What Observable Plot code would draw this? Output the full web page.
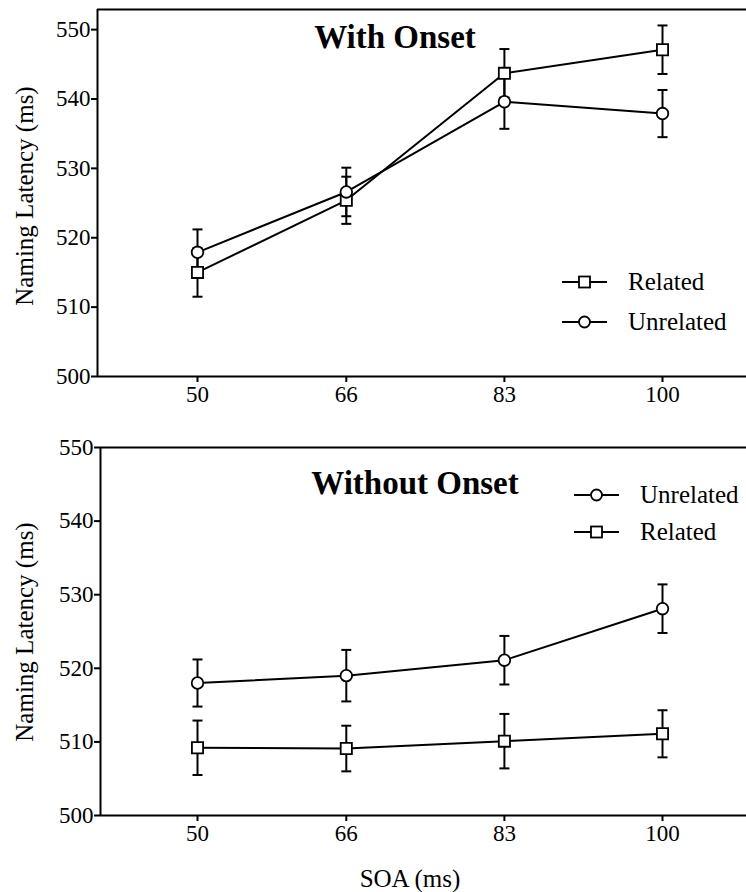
<!DOCTYPE html>
<html>
<head>
<meta charset="utf-8">
<script src="https://cdn.jsdelivr.net/npm/d3@7"></script>
<script src="https://cdn.jsdelivr.net/npm/@observablehq/plot@0.6"></script>
<style>
  html, body { margin: 0; padding: 0; background: #fff; }
  #page { position: relative; width: 746px; height: 892px; overflow: hidden; font-family: "Liberation Serif", "DejaVu Serif", "Times New Roman", Times, serif; color: #000; }
  .panel { position: absolute; left: 0; }
  .title { position: absolute; font-weight: bold; font-size: 33px; white-space: nowrap; transform: translate(-50%, -50%); }
  .ylab { position: absolute; font-size: 25px; white-space: nowrap; transform: translate(-50%, -50%) rotate(-90deg); }
  .xlab { position: absolute; font-size: 25px; white-space: nowrap; transform: translate(-50%, -50%); }
  .legend { position: absolute; font-size: 25px; }
  .legend .row { position: absolute; display: flex; align-items: center; white-space: nowrap; transform: translateY(-50%); }
  .legend .row span { margin-left: 21px; }
  svg text { font-family: "Liberation Serif", "DejaVu Serif", "Times New Roman", Times, serif !important; }
  g[aria-label^="x-axis"] line, g[aria-label^="y-axis"] line,
  g[aria-label^="x-axis"] path, g[aria-label^="y-axis"] path { stroke-width: 2; }
</style>
</head>
<body>
<div id="page"></div>
<script>
// ---- data ----
const soa = [50, 66, 83, 100];
const xTickLabels = ["50", "66", "83", "100"];
const yTicks = [500, 510, 520, 530, 540, 550];

// With Onset panel
const withRelated = [515.0, 525.4, 543.7, 547.1];
const withRelatedErr = [3.5, 3.4, 3.5, 3.5];
const withUnrelated = [517.9, 526.6, 539.6, 537.9];
const withUnrelatedErr = [3.3, 3.5, 3.9, 3.4];

// Without Onset panel
const withoutUnrelated = [518.0, 519.0, 521.1, 528.1];
const withoutUnrelatedErr = [3.2, 3.5, 3.3, 3.3];
const withoutRelated = [509.2, 509.1, 510.1, 511.1];
const withoutRelatedErr = [3.7, 3.1, 3.7, 3.2];

// ---- helpers ----
const capSymbol = {
  draw(context, size) {
    const r = Math.sqrt(size / Math.PI);
    context.moveTo(-r, 0);
    context.lineTo(r, 0);
  }
};

function rows(values, errs, cond) {
  return soa.map((s, i) => ({soa: s, value: values[i], lo: values[i] - errs[i], hi: values[i] + errs[i], cond}));
}

function seriesMarks(data) {
  return [
    Plot.line(data, {x: "soa", y: "value", stroke: "#000", strokeWidth: 2}),
    Plot.ruleX(data, {x: "soa", y1: "lo", y2: "hi", stroke: "#000", strokeWidth: 2}),
    Plot.dot(data, {x: "soa", y: "hi", symbol: capSymbol, r: 5, stroke: "#000", strokeWidth: 2, fill: "none"}),
    Plot.dot(data, {x: "soa", y: "lo", symbol: capSymbol, r: 5, stroke: "#000", strokeWidth: 2, fill: "none"})
  ];
}

function dotMarks(data, symbol) {
  const r = symbol === "square" ? 6.3 : 5.8;
  return Plot.dot(data, {x: "soa", y: "value", symbol, r, stroke: "#000", strokeWidth: 1.8, fill: "#fff"});
}

const serif = "'Liberation Serif', 'DejaVu Serif', 'Times New Roman', Times, serif";
const pxPerUnit = 9.3;
function makePanel({series, marginLeft, marginTop, height, marginBottom, yMax}) {
  const xMin = 50 - (197 - marginLeft) / pxPerUnit;
  const xMax = 100 + (746 - 662) / pxPerUnit;
  return Plot.plot({
    width: 746,
    height,
    marginLeft,
    marginRight: 0,
    marginTop,
    marginBottom,
    style: {fontFamily: serif, fontSize: "23px", color: "#000", background: "transparent", overflow: "visible"},
    x: {domain: [xMin, xMax], ticks: soa, tickFormat: d => xTickLabels[soa.indexOf(d)], tickSize: 6, tickPadding: 3, label: null},
    y: {domain: [500, yMax], ticks: yTicks, tickSize: 6, tickPadding: 1, label: null},
    marks: [
      Plot.ruleX([xMin], {stroke: "#000", strokeWidth: 2}),
      Plot.ruleY([500], {stroke: "#000", strokeWidth: 2}),
      Plot.ruleY([yMax], {stroke: "#000", strokeWidth: 2}),
      ...series.flatMap(s => seriesMarks(s.data)),
      ...series.map(s => dotMarks(s.data, s.symbol))
    ]
  });
}

const page = document.getElementById("page");

function addPanel(top, svg) {
  const div = document.createElement("div");
  div.className = "panel";
  div.style.top = top + "px";
  div.appendChild(svg);
  page.appendChild(div);
}

const topPlot = makePanel({
  series: [
    {data: rows(withRelated, withRelatedErr, "Related"), symbol: "square"},
    {data: rows(withUnrelated, withUnrelatedErr, "Unrelated"), symbol: "circle"}
  ],
  marginLeft: 97, marginTop: 9, height: 420, marginBottom: 44, yMax: 552.9
});
addPanel(0, topPlot);

const bottomPlot = makePanel({
  series: [
    {data: rows(withoutRelated, withoutRelatedErr, "Related"), symbol: "square"},
    {data: rows(withoutUnrelated, withoutUnrelatedErr, "Unrelated"), symbol: "circle"}
  ],
  marginLeft: 100, marginTop: 27, height: 472, marginBottom: 77, yMax: 550
});
addPanel(420, bottomPlot);

function addText(cls, text, x, y) {
  const d = document.createElement("div");
  d.className = cls;
  d.textContent = text;
  d.style.left = x + "px";
  d.style.top = y + "px";
  page.appendChild(d);
}

addText("title", "With Onset", 395, 37);
addText("title", "Without Onset", 415, 483);
addText("ylab", "Naming Latency (ms)", 25, 196);
addText("ylab", "Naming Latency (ms)", 25, 632);
addText("xlab", "SOA (ms)", 410, 879);

function symbolSvg(type) {
  const shape = type === "square"
    ? '<rect x="17" y="1.5" width="11" height="11" fill="#fff" stroke="#000" stroke-width="1.8"/>'
    : '<circle cx="22.5" cy="7" r="5.5" fill="#fff" stroke="#000" stroke-width="1.8"/>';
  return '<svg width="45" height="14" style="display:block"><line x1="0" y1="7" x2="45" y2="7" stroke="#000" stroke-width="2"/>' + shape + '</svg>';
}

function addLegend(items, x, ys) {
  const lg = document.createElement("div");
  lg.className = "legend";
  lg.style.left = x + "px";
  lg.style.top = "0px";
  items.forEach((it, i) => {
    const row = document.createElement("div");
    row.className = "row";
    row.style.top = ys[i] + "px";
    row.innerHTML = symbolSvg(it.symbol) + "<span>" + it.label + "</span>";
    lg.appendChild(row);
  });
  page.appendChild(lg);
}

addLegend([{symbol: "square", label: "Related"}, {symbol: "circle", label: "Unrelated"}], 562, [282, 322]);
addLegend([{symbol: "circle", label: "Unrelated"}, {symbol: "square", label: "Related"}], 574, [495, 532]);
</script>
</body>
</html>
